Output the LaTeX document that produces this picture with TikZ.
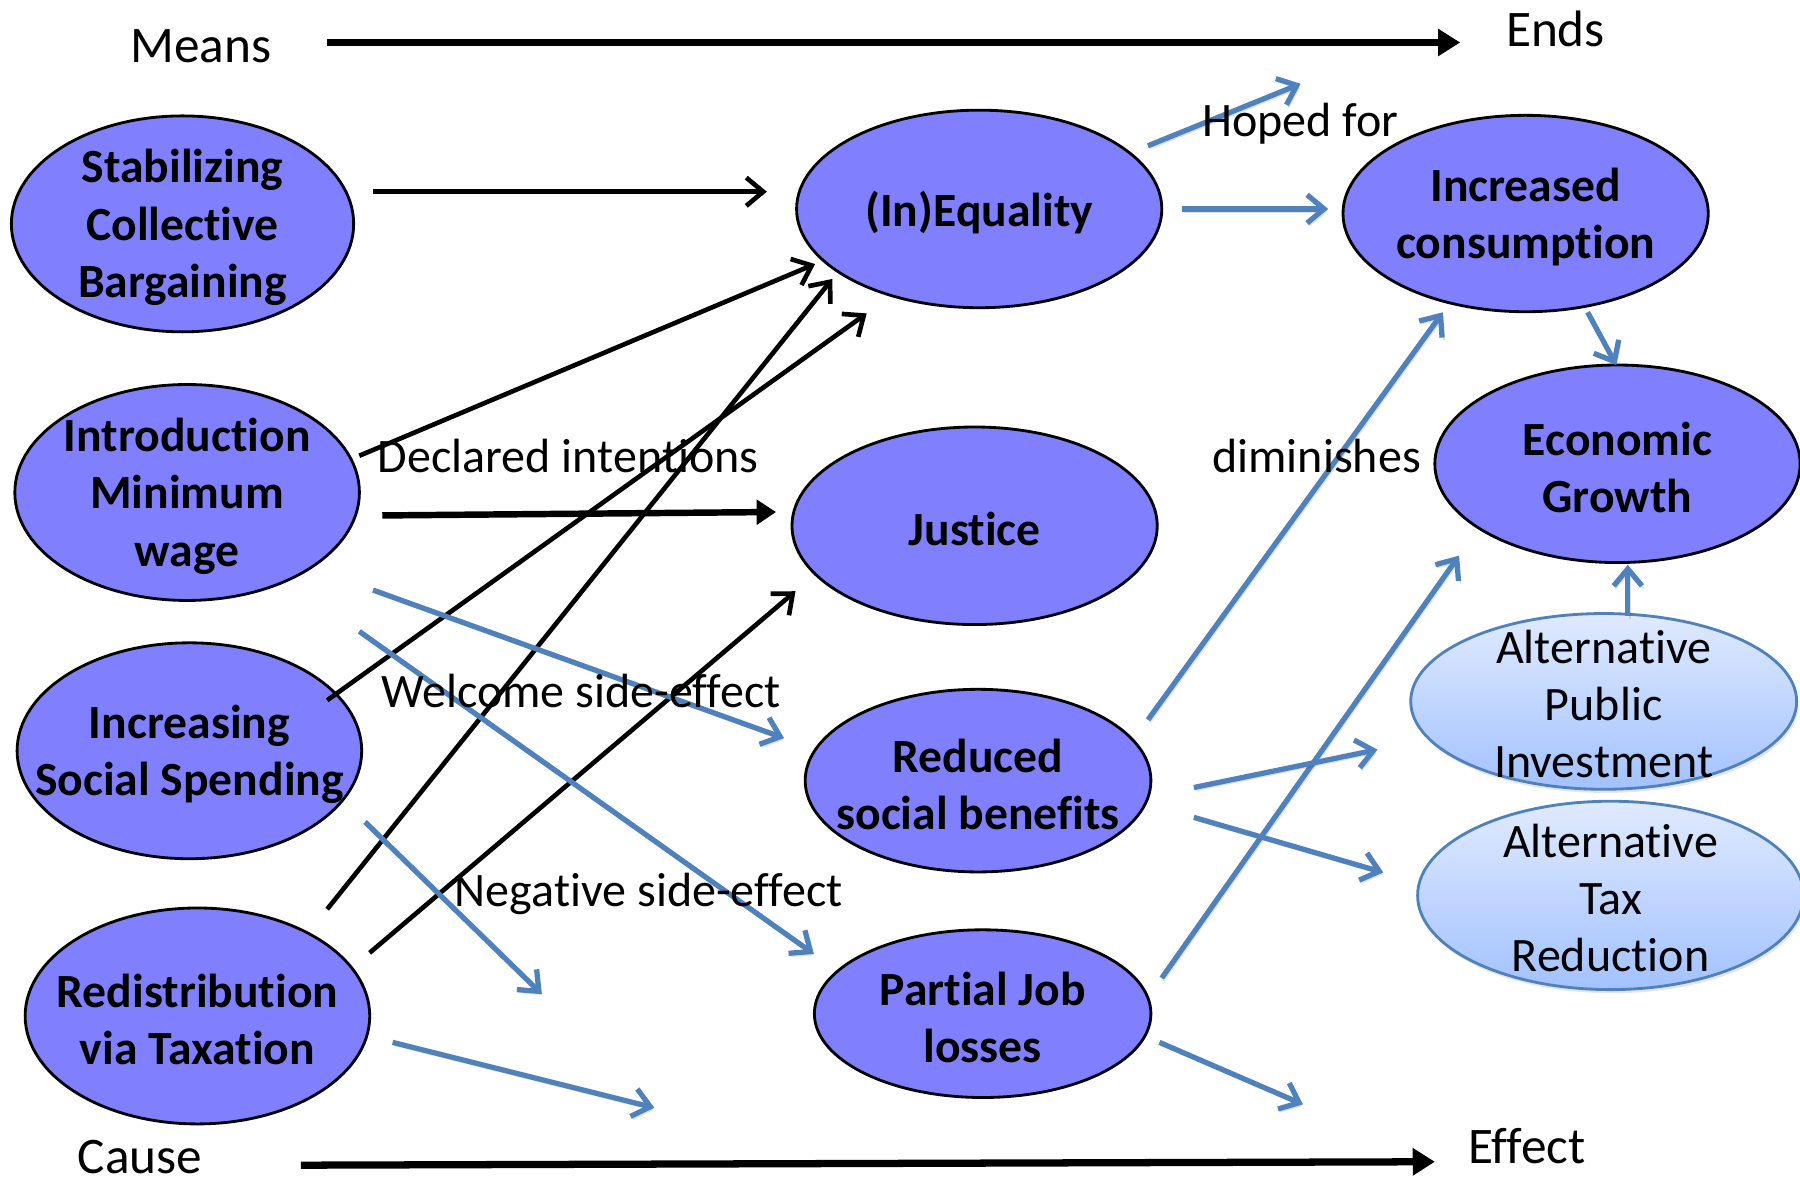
\documentclass[tikz,border=0pt]{standalone}
\usepackage{fontspec}
\setmainfont{Carlito}[Ligatures=NoCommon]
\usetikzlibrary{shapes.geometric,arrows.meta,calc,shadows}
\definecolor{ellfill}{RGB}{128,128,255}
\definecolor{arrblue}{RGB}{79,129,189}
\definecolor{lighttop}{RGB}{224,234,255}
\definecolor{lightbot}{RGB}{162,194,255}
\begin{document}
\begin{tikzpicture}[x=0.01cm,y=-0.01cm,
  bigell/.style={ellipse, draw=black, line width=0.7pt, fill=ellfill, inner sep=0pt},
  lightell/.style={ellipse, draw=arrblue, line width=0.7pt, top color=lighttop, bottom color=lightbot, inner sep=0pt,
    drop shadow={opacity=0.2, shadow xshift=0.4pt, shadow yshift=-0.9pt}},
  elltext/.style={font=\fontsize{11.8}{14.2}\selectfont\bfseries, align=center, inner sep=0pt, yshift=-0.9pt},
  lighttext/.style={font=\fontsize{11.9}{14.2}\selectfont, align=center, inner sep=0pt, yshift=-0.6pt},
  lbl/.style={font=\fontsize{11.9}{14}\selectfont, inner sep=0pt},
  axislbl/.style={font=\fontsize{12.7}{15}\selectfont, inner sep=0pt},
  blk/.style={line width=1.15pt, -{Straight Barb[length=4.2pt,width=7pt,line width=1.15pt]}},
  blkthick/.style={line width=1.6pt, -{Triangle[length=4.8pt,width=6pt]}},
  axis/.style={line width=1.8pt, -{Triangle[length=5.5pt,width=6.5pt]}},
  blu/.style={draw=arrblue, line width=1.3pt, -{Straight Barb[length=4.2pt,width=7pt,line width=1.3pt]},
    preaction={draw=black, opacity=0.12, transform canvas={shift={(0.5pt,-0.7pt)}}}},
]
\clip (0,0) rectangle (1568,1029);
\fill[white] (0,0) rectangle (1568,1029);

% axis labels
\node[axislbl] (means) at (175,40) {Means};
\node[axislbl] (ends) at (1355,25) {Ends};
\node[axislbl] (cause) at (122,1008) {Cause};
\node[axislbl] (effect) at (1330,998) {Effect};
\draw[axis] ($(means)+(110,-3)$) -- ($(ends)+(-83,12)$);
\draw[axis] ($(cause)+(140,7)$) -- ($(effect)+(-80,14)$);

% ellipses
\node[bigell, minimum width=2.98cm, minimum height=1.88cm] (stab) at (159,195) {};
\node[bigell, minimum width=3.00cm, minimum height=1.88cm] (minw) at (163,429) {};
\node[bigell, minimum width=3.00cm, minimum height=1.88cm] (soc) at (165,654) {};
\node[bigell, minimum width=3.00cm, minimum height=1.88cm] (redis) at (172,885) {};
\node[bigell, minimum width=3.18cm, minimum height=1.72cm] (ineq) at (853,182) {};
\node[bigell, minimum width=3.18cm, minimum height=1.72cm] (just) at (849,458) {};
\node[bigell, minimum width=3.01cm, minimum height=1.59cm] (red) at (852,680) {};
\node[bigell, minimum width=2.93cm, minimum height=1.46cm] (pjl) at (856,883) {};
\node[bigell, minimum width=3.18cm, minimum height=1.71cm] (inc) at (1329,186) {};
\node[bigell, minimum width=3.18cm, minimum height=1.72cm] (eg) at (1409,404) {};
\node[lightell, minimum width=3.36cm, minimum height=1.53cm] (api) at (1397,611) {};
\node[lightell, minimum width=3.36cm, minimum height=1.64cm] (atr) at (1403,780) {};

\node[elltext] at (stab) {Stabilizing\\Collective\\Bargaining};
\node[elltext] at (minw) {Introduction\\Minimum\\wage};
\node[elltext] at (soc) {Increasing\\Social Spending};
\node[elltext] at (redis) {Redistribution\\via Taxation};
\node[elltext] at (ineq) {(In)Equality};
\node[elltext] at (just) {Justice};
\node[elltext] at (red) {Reduced\\social benefits};
\node[elltext] at (pjl) {Partial Job\\losses};
\node[elltext] at (inc) {Increased\\consumption};
\node[elltext] at (eg) {Economic\\Growth};
\node[lighttext] at (api) {Alternative\\Public\\Investment};
\node[lighttext] at (atr) {Alternative\\Tax\\Reduction};

% free ends
\coordinate (hope) at (1133,73);
\coordinate (freeo) at (1135,962);
\coordinate (freer) at (472,866);
\coordinate (frees) at (570,965);

% black arrows
\draw[blk] ($(stab)+(166,-28)$) -- ($(ineq)+(-185,-15)$);
\draw[blk] ($(minw)+(150,-32)$) -- ($(ineq)+(-143,48)$);
\draw[blkthick] ($(minw)+(170,20)$) -- ($(just)+(-173,-12)$);
\draw[blk] ($(soc)+(120,-44)$) -- ($(ineq)+(-98,91)$);
\draw[blk] ($(redis)+(113,-93)$) -- ($(ineq)+(-128,61)$);
\draw[blk] ($(redis)+(150,-55)$) -- ($(just)+(-156,57)$);

% blue arrows
\draw[blu] ($(ineq)+(147,-55)$) -- (hope);
\draw[blu] ($(ineq)+(177,0)$) -- ($(inc)+(-172,-4)$);
\draw[blu] ($(inc)+(54,86)$) -- ($(eg)+(-1,-86)$);
\draw[blu] ($(red)+(148,-53)$) -- ($(inc)+(-72,86)$);
\draw[blu] ($(pjl)+(156,-31)$) -- ($(eg)+(-138,80)$);
\draw[blu] ($(api)+(21,-74)$) -- ($(eg)+(9,88)$);
\draw[blu] ($(red)+(188,6)$) -- ($(api)+(-197,42)$);
\draw[blu] ($(red)+(188,32)$) -- ($(atr)+(-198,-20)$);
\draw[blu] ($(pjl)+(154,25)$) -- (freeo);
\draw[blu] ($(minw)+(162,85)$) -- ($(red)+(-169,-37)$);
\draw[blu] ($(minw)+(150,121)$) -- ($(pjl)+(-147,-52)$);
\draw[blu] ($(soc)+(153,62)$) -- (freer);
\draw[blu] ($(redis)+(170,23)$) -- (frees);

% labels
\node[lbl] at (1133,108) {Hoped for};
\node[lbl] at (495,397) {Declared intentions};
\node[lbl] at (1147,397) {diminishes};
\node[lbl] at (506,602) {Welcome side-effect};
\node[lbl] at (565,779) {Negative side-effect};
\end{tikzpicture}
\end{document}
